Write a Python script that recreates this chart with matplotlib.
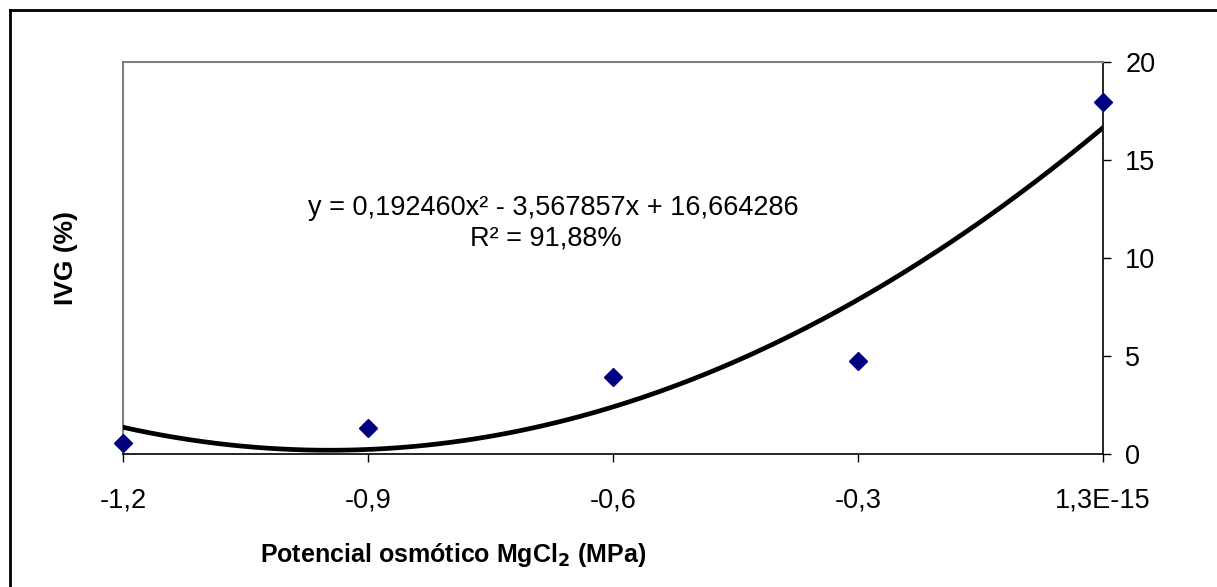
import numpy as np
import matplotlib.pyplot as plt
from matplotlib.lines import Line2D

plt.rcParams.update({
    "font.family": ["Liberation Sans", "DejaVu Sans"],
    "font.size": 19.5,
})

# data
potencial = [-1.2, -0.9, -0.6, -0.3, 0.0]
ivg = [0.56, 1.33, 3.93, 4.74, 17.96]
xtick_vals = [-1.2, -0.9, -0.6, -0.3, 0.0]
xtick_labels = ['-1,2', '-0,9', '-0,6', '-0,3', '1,3E-15']
ytick_vals = [0, 5, 10, 15, 20]

fig = plt.figure(figsize=(12.17, 5.87), dpi=100)
ax = fig.add_axes([123 / 1217, 1 - 454 / 587, 980 / 1217, 392 / 587])

# quadratic trendline through the points
coef = np.polyfit(potencial, ivg, 2)
xs = np.linspace(min(potencial), max(potencial), 300)
ax.plot(xs, np.polyval(coef, xs), color='black', linewidth=3.4, zorder=3)

ax.plot(potencial, ivg, linestyle='none', marker='D', markersize=9,
        color='#000080', zorder=5, clip_on=False)

ax.set_xlim(-1.2, 0.0)
ax.set_ylim(0, 20)
ax.set_xticks(xtick_vals)
ax.set_xticklabels(xtick_labels)
ax.set_yticks(ytick_vals)
ax.yaxis.tick_right()
ax.tick_params(axis='x', direction='out', length=6, width=1, pad=18, labelsize=19.5)
ax.tick_params(axis='y', direction='out', length=6, width=1, pad=10, labelsize=19.5)

for side in ['top', 'left']:
    ax.spines[side].set_color('#808080')
    ax.spines[side].set_linewidth(1.5)
for side in ['bottom', 'right']:
    ax.spines[side].set_color('black')
    ax.spines[side].set_linewidth(1.2)

ax.text(0.4388, 0.6276, 'y = 0,192460x² - 3,567857x + 16,664286', transform=ax.transAxes,
        ha='center', va='center', fontsize=19.5)
ax.text(0.4316, 0.551, 'R² = 91,88%', transform=ax.transAxes,
        ha='center', va='center', fontsize=19.5)

fig.text(453 / 1217, 1 - 555 / 587, 'Potencial osmótico MgCl$_\\mathbf{2}$ (MPa)',
         ha='center', va='center', fontsize=18, fontweight='bold')
fig.text(66 / 1217, 1 - 258 / 587, 'IVG (%)', rotation=90,
         ha='center', va='center', fontsize=19, fontweight='bold')

# outer chart border (only left and top visible)
fig.add_artist(Line2D([10 / 1217, 10 / 1217], [0, 1 - 10 / 587], color='black',
                      linewidth=2, transform=fig.transFigure))
fig.add_artist(Line2D([10 / 1217, 1], [1 - 10 / 587, 1 - 10 / 587], color='black',
                      linewidth=2, transform=fig.transFigure))

plt.savefig('out.png', dpi=100)
